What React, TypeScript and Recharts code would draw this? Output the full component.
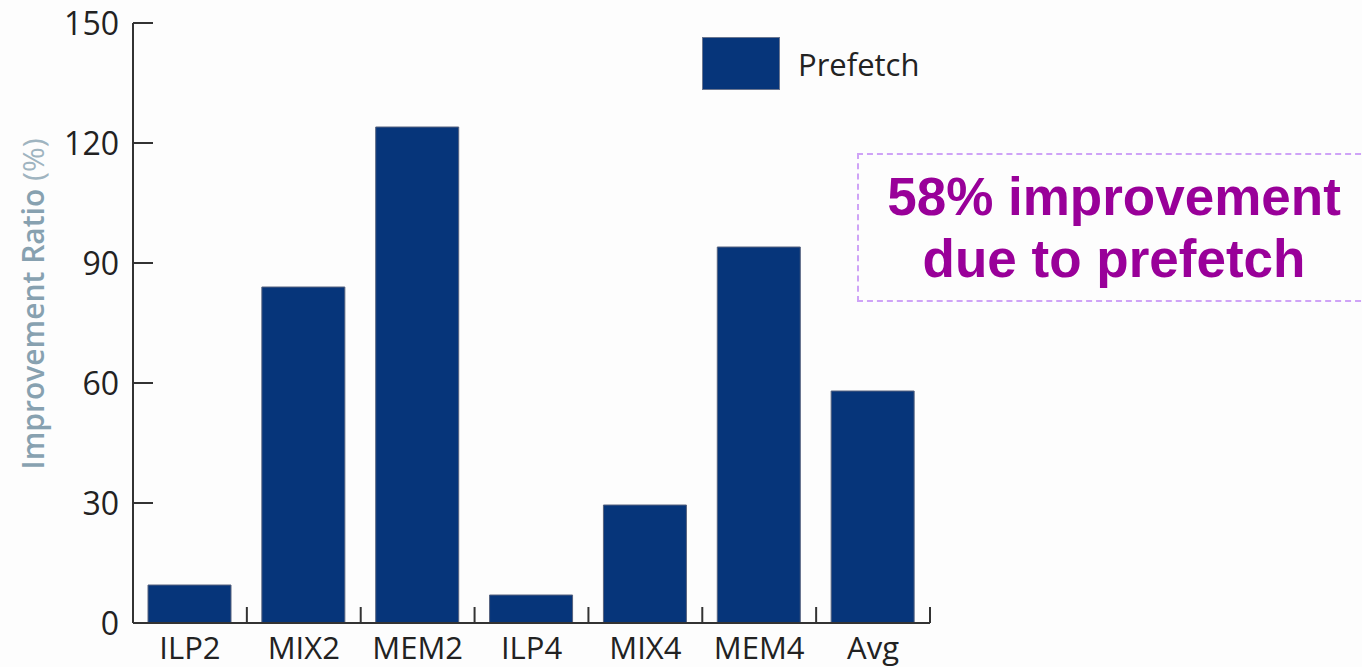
import { BarChart, Bar, XAxis, YAxis, Legend } from 'recharts';

const categories = ['ILP2', 'MIX2', 'MEM2', 'ILP4', 'MIX4', 'MEM4', 'Avg'];
const prefetch = [9.5, 84, 124, 7, 29.5, 94, 58];
const yTicks = [0, 30, 60, 90, 120, 150];

const rows = categories.map((name, i) => ({ name, prefetch: prefetch[i] }));

const BAR = '#06357a';
const FONT = '"Open Sans", sans-serif';

function YTick(props: any) {
  const { x, y, payload } = props;
  return (
    <g>
      <line x1={x} y1={y} x2={x + 20} y2={y} stroke="#333" strokeWidth={2} />
      <text x={x - 14} y={y} dy="0.36em" textAnchor="end" fontSize={32} fontFamily={FONT} fill="#222">
        {payload.value}
      </text>
    </g>
  );
}

function XTick(props: any) {
  const { x, y, payload } = props;
  const edge = x + (payload.offset ?? 0);
  return (
    <g>
      <line x1={edge} y1={y} x2={edge} y2={y - 16} stroke="#333" strokeWidth={2} />
      <text x={x} y={y + 25} dy="0.36em" textAnchor="middle" fontSize={31} fontFamily={FONT} fill="#222">
        {payload.value}
      </text>
    </g>
  );
}

function YLabel() {
  return (
    <text
      transform="rotate(-90)"
      x={-304}
      y={44}
      textAnchor="middle"
      fontFamily={FONT}
      fontSize={30}
      fill="#87a1b0"
    >
      <tspan fontWeight={600}>Improvement  Ratio </tspan>
      <tspan fontWeight={400} fill="#9fb4c0">(%)</tspan>
    </text>
  );
}

function LegendBox() {
  return (
    <div style={{ display: 'flex', alignItems: 'center', fontFamily: FONT }}>
      <div style={{ width: 76, height: 51, background: BAR, border: '1px solid #6a7690' }} />
      <span style={{ marginLeft: 18, fontSize: 31, color: '#222' }}>Prefetch</span>
    </div>
  );
}

export default function App() {
  return (
    <div
      style={{
        position: 'absolute',
        left: 0,
        top: 0,
        width: 1362,
        height: 667,
        overflow: 'hidden',
        background: '#fdfdfd',
      }}
    >
      <BarChart
        width={1362}
        height={667}
        data={rows}
        margin={{ top: 23, right: 432, bottom: 0, left: 0 }}
      >
        <XAxis
          dataKey="name"
          height={44}
          axisLine={{ stroke: '#333', strokeWidth: 2 }}
          tickLine={false}
          tickSize={0}
          tickMargin={0}
          tick={<XTick />}
          interval={0}
        />
        <YAxis
          width={133}
          domain={[0, 150]}
          ticks={yTicks}
          axisLine={{ stroke: '#333', strokeWidth: 2 }}
          tickLine={false}
          tickSize={0}
          tickMargin={0}
          tick={<YTick />}
          label={<YLabel />}
        />
        <Legend
          layout="horizontal"
          verticalAlign="middle"
          align="center"
          content={<LegendBox />}
          wrapperStyle={{ position: 'absolute', left: 702, top: 37, width: 'auto' }}
        />
        <Bar
          dataKey="prefetch"
          fill={BAR}
          stroke="#56627e"
          strokeWidth={1}
          barSize={83}
          isAnimationActive={false}
        />
      </BarChart>
      <div
        style={{
          position: 'absolute',
          left: 857,
          top: 153,
          width: 514,
          height: 149,
          border: '2px dashed #cfa3f7',
          boxSizing: 'border-box',
          display: 'flex',
          flexDirection: 'column',
          alignItems: 'center',
          justifyContent: 'center',
          fontFamily: '"Liberation Sans", Arial, sans-serif',
          fontWeight: 700,
          fontSize: 53,
          lineHeight: '62px',
          color: '#990099',
        }}
      >
        <div>58% improvement</div>
        <div>due to prefetch</div>
      </div>
    </div>
  );
}
